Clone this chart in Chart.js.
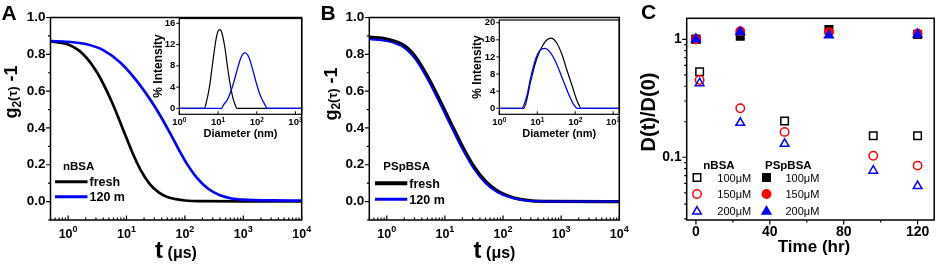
<!DOCTYPE html>
<html><head><meta charset="utf-8">
<script src="https://cdn.jsdelivr.net/npm/chart.js@4.4.1/dist/chart.umd.min.js"></script>
<style>
html,body{margin:0;padding:0;background:#fff;}
#wrap{position:relative;width:941px;height:264px;overflow:hidden;background:#fff;}
canvas{position:absolute;top:0;}
</style></head><body>
<div id="wrap">
<canvas id="cA" width="320" height="264" style="left:0px"></canvas>
<canvas id="cAi" width="185" height="150" style="left:130px"></canvas>
<canvas id="cB" width="320" height="264" style="left:320px"></canvas>
<canvas id="cBi" width="185" height="150" style="left:450px"></canvas>
<canvas id="cC" width="301" height="264" style="left:640px"></canvas>
</div>
<script>
// ---------------- DATA ----------------
// Panel A: g2(tau)-1 vs t (us), nBSA
const tA_fresh = [0.5, 1, 1.78, 3.16, 5.62, 8.91, 12.6, 17.8, 25.1, 35.5, 50.1, 70.8, 100, 200, 1000, 10000];
const gA_fresh = [0.87, 0.8535, 0.8035, 0.6995, 0.541, 0.385, 0.267, 0.167, 0.095, 0.050, 0.025, 0.013, 0.006, 0.002, 0.001, 0.001];
const tA_120 = [0.5, 1, 2, 4, 7.9, 15.8, 31.6, 56, 79, 112, 158, 251, 398, 631, 1000, 3160, 10000];
const gA_120 = [0.872, 0.868, 0.856, 0.823, 0.754, 0.646, 0.508, 0.371, 0.281, 0.198, 0.132, 0.070, 0.034, 0.017, 0.0105, 0.0065, 0.005];
// Panel A inset: % intensity vs diameter (nm)
const dA_fresh = [1, 4.4, 5, 6, 7, 8, 9, 10, 11, 12, 13, 15, 17, 19, 22, 25, 28, 31, 2000];
const vA_fresh = [0, 0, 1.2, 4.0, 7.6, 10.8, 13.2, 14.5, 14.8, 14.6, 13.8, 11.5, 8.6, 6.1, 3.4, 1.6, 0.6, 0, 0];
const dA_120 = [1, 12.4, 14, 17, 20, 25, 30, 35, 40, 50, 60, 70, 85, 100, 120, 140, 160, 175, 185, 2000];
const vA_120 = [0, 0, 0.7, 1.5, 2.6, 4.7, 6.8, 8.5, 9.7, 10.5, 9.9, 8.6, 6.4, 4.5, 2.7, 1.6, 0.8, 0.25, 0, 0];
// Panel B: PSpBSA
const tB = [0.5, 1, 2, 3.16, 5.01, 7.94, 12.6, 20, 31.6, 50.1, 79.4, 126, 200, 316, 631, 10000];
const gB_fresh = [0.893, 0.883, 0.847, 0.783, 0.68, 0.557, 0.427, 0.299, 0.189, 0.109, 0.058, 0.029, 0.012, 0.004, 0.001, 0];
const gB_120 = [0.882, 0.872, 0.835, 0.77, 0.666, 0.542, 0.412, 0.285, 0.177, 0.10, 0.052, 0.025, 0.01, 0.003, 0.001, 0];
// Panel B inset
const dB_fresh = [1, 4.4, 5.4, 6.5, 8, 9.8, 13.3, 18, 23, 33, 45, 60, 82, 106, 125, 141, 2000];
const vB_fresh = [0, 0, 2.3, 5.8, 9.0, 11.7, 14.4, 16.0, 16.4, 15.2, 12.5, 9.0, 5.4, 2.3, 0.8, 0, 0];
const dB_120 = [1, 3.9, 5.4, 6.5, 8.9, 11.9, 16, 21.4, 29, 39, 54, 72, 92, 115, 2000];
const vB_120 = [0, 0, 3.1, 6.6, 11.3, 13.6, 14.0, 13.2, 11.3, 8.6, 5.4, 2.7, 0.8, 0, 0];
// Panel C: D(t)/D(0) vs time (hr)
const hrN100 = [0, 2, 48, 96, 120];
const rN100 = [1, 0.53, 0.203, 0.152, 0.152];
const hrN150 = [0, 2, 24, 48, 96, 120];
const rN150 = [1, 0.452, 0.26, 0.164, 0.103, 0.085];
const hrN200 = [0, 2, 24, 48, 96, 120];
const rN200 = [1, 0.424, 0.196, 0.13, 0.077, 0.057];
const hrP = [0, 24, 72, 120];
const rP100 = [1, 1.06, 1.21, 1.10];
const rP150 = [1, 1.17, 1.15, 1.12];
const rP200 = [1, 1.15, 1.08, 1.10];
// Tick labels
const lagTicks = [1, 10, 100, 1000, 10000];
const diamTicks = [1, 10, 100, 1000];
const gTicks = [0, 0.2, 0.4, 0.6, 0.8, 1.0];
const gMinor = [-0.1, 0.1, 0.3, 0.5, 0.7, 0.9];
const intTicksA = [0, 4, 8, 12, 16];
const intTicksB = [0, 4, 8, 12, 16, 20];
const timeTicks = [0, 40, 80, 120];
const timeMinor = [20, 60, 100];
const ratioTicks = [0.1, 1];

// ---------------- HELPERS ----------------
const FONT = "'Liberation Sans', Arial, Helvetica, sans-serif";
const BLUE = '#0000ff', RED = '#ff0000', BLACK = '#000000';
Chart.defaults.font.family = FONT;
Chart.defaults.color = '#000';

function pts(xs, ys) { return xs.map((x, i) => ({ x: x, y: ys[i] })); }
function fixedTicks(vals) { return (axis) => { axis.ticks = vals.map(v => ({ value: v })); }; }
function minorLog(lo, hi) {
  const out = [];
  for (let e = Math.floor(Math.log10(lo)); e <= Math.ceil(Math.log10(hi)); e++)
    for (let m = 2; m <= 9; m++) { const v = m * Math.pow(10, e); if (v >= lo && v <= hi) out.push(v); }
  if (lo < 1 && out.indexOf(0.5) < 0) out.push(0.5);
  return out;
}
function fnt(p) { return (p.bold ? 'bold ' : '') + p.size + 'px ' + FONT; }
function drawRich(ctx, t) {
  ctx.save();
  ctx.translate(t.x, t.y);
  if (t.rot) ctx.rotate(t.rot);
  let w = 0;
  t.parts.forEach(p => { ctx.font = fnt(p); p.w = ctx.measureText(p.s).width; w += p.w; });
  let x = t.align === 'left' ? 0 : (t.align === 'right' ? -w : -w / 2);
  ctx.textBaseline = 'alphabetic';
  ctx.textAlign = 'left';
  ctx.fillStyle = t.color || '#000';
  t.parts.forEach(p => { ctx.font = fnt(p); ctx.fillText(p.s, x, p.dy || 0); x += p.w; });
  ctx.restore();
}
function drawMark(ctx, m) {
  ctx.save();
  ctx.beginPath();
  const x = m.x, y = m.y, r = m.r;
  if (m.shape === 'rect') { const s = Math.SQRT1_2 * r; ctx.rect(x - s, y - s, 2 * s, 2 * s); }
  else if (m.shape === 'circle') { ctx.arc(x, y, r, 0, Math.PI * 2); }
  else {
    for (let i = 0; i < 3; i++) {
      const a = i * 2 * Math.PI / 3;
      const px = x + Math.sin(a) * r, py = y - Math.cos(a) * r;
      if (i) ctx.lineTo(px, py); else ctx.moveTo(px, py);
    }
    ctx.closePath();
  }
  if (m.fill) { ctx.fillStyle = m.color; ctx.fill(); }
  ctx.lineWidth = 1.5; ctx.strokeStyle = m.color; ctx.stroke();
  ctx.restore();
}
function drawLogLabels(ctx, scale, y, big, sup, raise) {
  scale.ticks.forEach(t => {
    const e = Math.round(Math.log10(t.value));
    const x = scale.getPixelForValue(t.value);
    drawRich(ctx, { x: x, y: y, parts: [{ s: '10', size: big, bold: true }, { s: String(e), size: sup, bold: true, dy: -raise }] });
  });
}
function decor(o) {
  return {
    id: 'decor',
    afterDraw(chart) {
      const ctx = chart.ctx, a = chart.chartArea, sx = chart.scales.x, sy = chart.scales.y;
      ctx.save();
      ctx.strokeStyle = '#000'; ctx.lineWidth = o.tw || 1.2; ctx.beginPath();
      (o.xt || []).forEach(t => t.v.forEach(v => {
        const p = sx.getPixelForValue(v); if (p < a.left - 0.6 || p > a.right + 0.6) return;
        ctx.moveTo(p, a.bottom); ctx.lineTo(p, a.bottom + t.len);
      }));
      (o.yt || []).forEach(t => t.v.forEach(v => {
        const p = sy.getPixelForValue(v); if (p < a.top - 0.6 || p > a.bottom + 0.6) return;
        ctx.moveTo(a.left, p); ctx.lineTo(a.left - t.len, p);
      }));
      ctx.stroke();
      ctx.lineWidth = o.fw || 1.5;
      ctx.strokeRect(a.left, a.top, a.right - a.left, a.bottom - a.top);
      if (o.log) drawLogLabels(ctx, sx, a.bottom + o.log.dy, o.log.big, o.log.sup, o.log.raise);
      ctx.translate(-o.ox, 0);
      (o.texts || []).forEach(t => drawRich(ctx, t));
      (o.lines || []).forEach(l => { ctx.beginPath(); ctx.strokeStyle = l.c; ctx.lineWidth = l.w; ctx.moveTo(l.x1, l.y); ctx.lineTo(l.x2, l.y); ctx.stroke(); });
      (o.marks || []).forEach(m => drawMark(ctx, m));
      ctx.restore();
    }
  };
}
function lineChart(id, sets, o) {
  return new Chart(document.getElementById(id), {
    type: 'line',
    data: { datasets: sets.map(s => ({ data: pts(s.x, s.y), borderColor: s.color, borderWidth: s.w, pointRadius: 0, cubicInterpolationMode: 'monotone', order: s.order, fill: false })) },
    options: {
      responsive: false, animation: false, events: [],
      layout: { padding: { top: o.top, right: o.right, left: 0, bottom: 0 } },
      plugins: { legend: { display: false }, tooltip: { enabled: false } },
      scales: {
        x: { type: 'logarithmic', min: o.xmin, max: o.xmax, grid: { display: false, drawTicks: false }, border: { display: false },
             afterBuildTicks: fixedTicks(o.xticks), afterFit: s => { s.height = o.xh; }, ticks: { display: false } },
        y: { type: 'linear', min: o.ymin, max: o.ymax, grid: { display: false, drawTicks: false }, border: { display: false },
             afterBuildTicks: fixedTicks(o.yticks), afterFit: s => { s.width = o.yw; },
             ticks: { callback: o.yfmt, font: { size: o.yfs, weight: 'bold' }, padding: o.ypad, color: '#000' } }
      }
    },
    plugins: [decor(o.decor)]
  });
}
const gTitle = [{ s: 'g', size: 18, bold: true }, { s: '2', size: 12, bold: true, dy: 3.5 }, { s: '(τ)', size: 13, bold: true }, { s: ' -1', size: 18, bold: true }];
const tTitle = [{ s: 't', size: 24, bold: true }, { s: ' (μs)', size: 16, bold: true }];
const lagMinor = minorLog(0.5, 10000);

// ---------------- PANEL A ----------------
lineChart('cA', [
  { x: tA_fresh, y: gA_fresh, color: BLACK, w: 2.7, order: 2 },
  { x: tA_120, y: gA_120, color: BLUE, w: 2.7, order: 1 }
], {
  top: 17.5, right: 18.3, xh: 44, yw: 50.5, xmin: 0.5, xmax: 10000, ymin: -0.1, ymax: 1.0,
  xticks: lagTicks, yticks: gTicks, yfmt: v => v.toFixed(1), yfs: 13.5, ypad: 5,
  decor: {
    ox: 0,
    xt: [{ v: lagTicks, len: -4.5 }, { v: lagMinor, len: -2.5 }],
    yt: [{ v: gTicks, len: 4.5 }, { v: gMinor, len: 2.5 }],
    log: { dy: 17.7, big: 12.5, sup: 9, raise: 6 },
    texts: [
      { x: 1.5, y: 20, align: 'left', parts: [{ s: 'A', size: 21, bold: true }] },
      { x: 17, y: 92, rot: -Math.PI / 2, parts: gTitle },
      { x: 176, y: 258, parts: tTitle },
      { x: 63, y: 169.5, align: 'left', parts: [{ s: 'nBSA', size: 11.5, bold: true }] },
      { x: 89.5, y: 186, align: 'left', parts: [{ s: 'fresh', size: 12.5, bold: true }] },
      { x: 89.5, y: 201.2, align: 'left', parts: [{ s: '120 m', size: 12.5, bold: true }] }
    ],
    lines: [{ x1: 55, x2: 87.5, y: 181.7, c: BLACK, w: 3 }, { x1: 55, x2: 87.5, y: 196.7, c: BLUE, w: 3 }]
  }
});
lineChart('cAi', [
  { x: dA_fresh, y: vA_fresh, color: BLACK, w: 1.2, order: 2 },
  { x: dA_120, y: vA_120, color: BLUE, w: 1.3, order: 1 }
], {
  top: 18.5, right: 13.3, xh: 35.7, yw: 49.3, xmin: 1, xmax: 1450, ymin: -1.1, ymax: 16.9,
  xticks: diamTicks, yticks: intTicksA, yfmt: v => String(v), yfs: 9.5, ypad: 4,
  decor: {
    ox: 130, fw: 1.2, tw: 1,
    xt: [{ v: diamTicks, len: -3 }],
    yt: [{ v: intTicksA, len: 3 }],
    log: { dy: 11, big: 9.5, sup: 6.5, raise: 3.6 },
    texts: [
      { x: 162, y: 66, rot: -Math.PI / 2, parts: [{ s: '% Intensity', size: 12, bold: true }] },
      { x: 240.5, y: 137, parts: [{ s: 'Diameter (nm)', size: 11, bold: true }] }
    ]
  }
});

// ---------------- PANEL B ----------------
lineChart('cB', [
  { x: tB, y: gB_fresh, color: BLACK, w: 3.4, order: 2 },
  { x: tB, y: gB_120, color: BLUE, w: 2, order: 1 }
], {
  top: 17.5, right: 20.7, xh: 44, yw: 49.3, xmin: 0.5, xmax: 10000, ymin: -0.1, ymax: 1.0,
  xticks: lagTicks, yticks: gTicks, yfmt: v => v.toFixed(1), yfs: 13.5, ypad: 5,
  decor: {
    ox: 320,
    xt: [{ v: lagTicks, len: -4.5 }, { v: lagMinor, len: -2.5 }],
    yt: [{ v: gTicks, len: 4.5 }, { v: gMinor, len: 2.5 }],
    log: { dy: 17.7, big: 12.5, sup: 9, raise: 6 },
    texts: [
      { x: 320.5, y: 20, align: 'left', parts: [{ s: 'B', size: 21, bold: true }] },
      { x: 336.5, y: 94, rot: -Math.PI / 2, parts: gTitle },
      { x: 494.5, y: 258, parts: tTitle },
      { x: 383.3, y: 170, align: 'left', parts: [{ s: 'PSpBSA', size: 11.5, bold: true }] },
      { x: 409.3, y: 187.5, align: 'left', parts: [{ s: 'fresh', size: 12.5, bold: true }] },
      { x: 409.3, y: 203.5, align: 'left', parts: [{ s: '120 m', size: 12.5, bold: true }] }
    ],
    lines: [{ x1: 375, x2: 407.3, y: 183.3, c: BLACK, w: 4 }, { x1: 375, x2: 407.3, y: 199.3, c: BLUE, w: 3 }]
  }
});
lineChart('cBi', [
  { x: dB_fresh, y: vB_fresh, color: BLACK, w: 1.2, order: 2 },
  { x: dB_120, y: vB_120, color: BLUE, w: 1.3, order: 1 }
], {
  top: 20, right: 15.7, xh: 35.7, yw: 49.3, xmin: 1, xmax: 1450, ymin: -1.4, ymax: 20.63,
  xticks: diamTicks, yticks: intTicksB, yfmt: v => String(v), yfs: 9.5, ypad: 4,
  decor: {
    ox: 450, fw: 1.2, tw: 1,
    xt: [{ v: diamTicks, len: -3 }],
    yt: [{ v: intTicksB, len: 3 }],
    log: { dy: 11, big: 9.5, sup: 6.5, raise: 3.6 },
    texts: [
      { x: 481, y: 67, rot: -Math.PI / 2, parts: [{ s: '% Intensity', size: 12, bold: true }] },
      { x: 559.3, y: 137, parts: [{ s: 'Diameter (nm)', size: 11, bold: true }] }
    ]
  }
});

// ---------------- PANEL C ----------------
function sc(xs, ys, shape, r, color, filled, order) {
  return { data: pts(xs, ys), pointStyle: shape, pointRadius: r, pointBorderColor: color, pointBorderWidth: 1.5,
           pointBackgroundColor: filled ? color : 'rgba(255,255,255,0)', showLine: false, order: order };
}
new Chart(document.getElementById('cC'), {
  type: 'scatter',
  data: { datasets: [
    sc(hrN100, rN100, 'rect', 5.3, BLACK, false, 5),
    sc(hrN150, rN150, 'circle', 4.2, RED, false, 4),
    sc(hrN200, rN200, 'triangle', 5, BLUE, false, 3),
    sc(hrP, rP100, 'rect', 5.3, BLACK, true, 2),
    sc(hrP, rP150, 'circle', 4.2, RED, true, 1),
    sc(hrP, rP200, 'triangle', 5, BLUE, true, 0)
  ] },
  options: {
    responsive: false, animation: false, events: [],
    layout: { padding: { top: 18.3, right: 4.3, left: 0, bottom: 0 } },
    plugins: { legend: { display: false }, tooltip: { enabled: false } },
    scales: {
      x: { type: 'linear', min: -5, max: 129, grid: { display: false, drawTicks: false }, border: { display: false },
           afterBuildTicks: fixedTicks(timeTicks), afterFit: s => { s.height = 44; },
           ticks: { font: { size: 14, weight: 'bold' }, padding: 4, color: '#000', maxRotation: 0, autoSkip: false } },
      y: { type: 'logarithmic', min: 0.0294, max: 1.506, grid: { display: false, drawTicks: false }, border: { display: false },
           afterBuildTicks: fixedTicks(ratioTicks), afterFit: s => { s.width = 46.7; },
           ticks: { callback: v => String(v), font: { size: 14, weight: 'bold' }, padding: 5, color: '#000' } }
    }
  },
  plugins: [decor({
    ox: 640,
    xt: [{ v: timeTicks, len: 4.5 }, { v: timeMinor, len: 2.5 }],
    yt: [{ v: ratioTicks, len: 4.5 }, { v: minorLog(0.03, 0.9), len: 2.5 }],
    texts: [
      { x: 641, y: 19, align: 'left', parts: [{ s: 'C', size: 21, bold: true }] },
      { x: 655, y: 112, rot: -Math.PI / 2, parts: [{ s: 'D(t)/D(0)', size: 20, bold: true }] },
      { x: 814, y: 252, parts: [{ s: 'Time (hr)', size: 17, bold: true }] },
      { x: 703.3, y: 168.5, align: 'left', parts: [{ s: 'nBSA', size: 11.5, bold: true }] },
      { x: 765, y: 168.5, align: 'left', parts: [{ s: 'PSpBSA', size: 11.5, bold: true }] },
      { x: 717.3, y: 181.5, align: 'left', parts: [{ s: '100μM', size: 11 }] },
      { x: 717.3, y: 198, align: 'left', parts: [{ s: '150μM', size: 11 }] },
      { x: 717.3, y: 214.5, align: 'left', parts: [{ s: '200μM', size: 11 }] },
      { x: 785.5, y: 181.5, align: 'left', parts: [{ s: '100μM', size: 11 }] },
      { x: 785.5, y: 198, align: 'left', parts: [{ s: '150μM', size: 11 }] },
      { x: 785.5, y: 214.5, align: 'left', parts: [{ s: '200μM', size: 11 }] }
    ],
    marks: [
      { x: 697, y: 177.5, shape: 'rect', r: 5.3, color: BLACK, fill: false },
      { x: 697, y: 194, shape: 'circle', r: 4.2, color: RED, fill: false },
      { x: 697, y: 211.5, shape: 'triangle', r: 5, color: BLUE, fill: false },
      { x: 766.5, y: 177.5, shape: 'rect', r: 5.3, color: BLACK, fill: true },
      { x: 766.5, y: 194, shape: 'circle', r: 4.2, color: RED, fill: true },
      { x: 766.5, y: 211.5, shape: 'triangle', r: 5, color: BLUE, fill: true }
    ]
  })]
});
</script>
</body></html>
